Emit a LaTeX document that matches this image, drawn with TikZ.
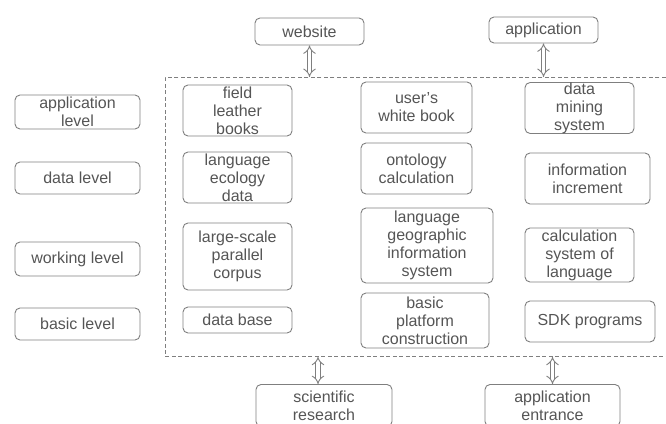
\documentclass[tikz,border=0pt]{standalone}
\usepackage{fontspec}
\setmainfont{Liberation Sans}
\usetikzlibrary{arrows.meta}

\definecolor{boxgray}{HTML}{7F7F7F}
\definecolor{txtgray}{HTML}{555555}

\tikzset{
  blk/.style={draw=boxgray, line width=0.9pt, rounded corners=5pt, align=center,
    text=txtgray, inner sep=0pt, font=\fontsize{16}{18}\selectfont},
  frame/.style={draw=boxgray, dash pattern=on 4pt off 2.5pt, line width=0.8pt},
  dbl/.style={draw=boxgray, double=white, double distance=3.5pt, line width=0.9pt,
    {Implies}-{Implies}}
}

\begin{document}
\begin{tikzpicture}[x=1pt, y=-1pt]
  \useasboundingbox (0,0) rectangle (666,423);

  % the dashed frame, running off the right edge
  \node[frame, anchor=north west, minimum width=530pt, minimum height=279pt] (frame) at (165,77) {};

  % levels on the left
  \foreach \name/\y/\h/\txt in {applvl/112/34/{application\\level}, datalvl/178/32/{data level},
      worklvl/259/34/{working level}, baselvl/324/32/{basic level}} {
    \node[blk, minimum width=125pt, minimum height=\h pt] (\name) at (77.5,\y) {\txt};
  }

  % outside: top and bottom
  \node[blk, minimum width=109pt, minimum height=27pt] (website) at (309.5,31.5) {website};
  \node[blk, minimum width=109pt, minimum height=26pt] (application) at (543.5,30) {application};
  \node[blk, minimum width=136pt, minimum height=42pt] (research) at (324,405.5) {scientific\\research};
  \node[blk, minimum width=135pt, minimum height=42pt] (entrance) at (552.5,405.5) {application\\entrance};

  % first column
  \node[blk, minimum width=109pt, minimum height=51pt] (field) at (237.5,110.5) {field\\leather\\books};
  \node[blk, minimum width=109pt, minimum height=51pt] (ecology) at (237.5,177.5) {language\\ecology\\data};
  \node[blk, minimum width=109pt, minimum height=67pt] (corpus) at (237.5,256.5) {large-scale\\parallel\\corpus};
  \node[blk, minimum width=109pt, minimum height=26pt] (database) at (237.5,320) {data base};

  % second column
  \node[blk, minimum width=111pt, minimum height=51pt] (whitebook) at (416.5,107.5) {user's\\white book};
  \node[blk, minimum width=111pt, minimum height=51pt] (ontology) at (416.5,168.5) {ontology\\calculation};
  \node[blk, minimum width=132pt, minimum height=75pt] (geo) at (427,245.5) {language\\geographic\\information\\system};
  \node[blk, minimum width=128pt, minimum height=55pt] (platform) at (425,320.5) {basic\\platform\\construction};

  % third column
  \node[blk, minimum width=109pt, minimum height=50pt] (mining) at (579.5,108) {data\\mining\\system};
  \node[blk, minimum width=125pt, minimum height=51pt] (increment) at (587.5,178.5) {information\\increment};
  \node[blk, minimum width=109pt, minimum height=54pt] (calcsys) at (579.5,255) {calculation\\system of\\language};
  \node[blk, minimum width=130pt, minimum height=41pt] (sdk) at (590,321.5) {SDK programs};

  % two-way arrows to the frame
  \draw[dbl] (website) -- (website |- frame.north);
  \draw[dbl] (application) -- (application |- frame.north);
  \draw[dbl] ([xshift=-6pt]research.north) -- ([xshift=-6pt]research.north |- frame.south);
  \draw[dbl] (entrance) -- (entrance |- frame.south);
\end{tikzpicture}
\end{document}
